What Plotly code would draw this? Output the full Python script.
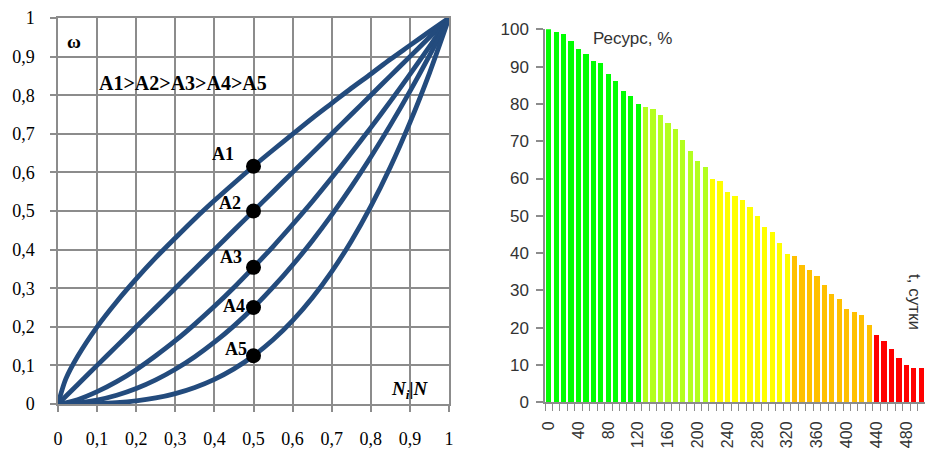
import plotly.graph_objects as go

# ---------- Left chart data ----------
x_rel = [0, 0.02, 0.05, 0.1, 0.15, 0.2, 0.25, 0.3, 0.35, 0.4, 0.45, 0.5,
         0.55, 0.6, 0.65, 0.7, 0.75, 0.8, 0.85, 0.9, 0.95, 1]
curve_a1 = [0, 0.065, 0.123, 0.2, 0.265, 0.324, 0.379, 0.43, 0.48, 0.527, 0.572, 0.616,
            0.658, 0.699, 0.74, 0.779, 0.818, 0.855, 0.893, 0.929, 0.965, 1]
curve_a2 = [0, 0.02, 0.05, 0.1, 0.15, 0.2, 0.25, 0.3, 0.35, 0.4, 0.45, 0.5,
            0.55, 0.6, 0.65, 0.7, 0.75, 0.8, 0.85, 0.9, 0.95, 1]
curve_a3 = [0, 0.003, 0.011, 0.032, 0.058, 0.089, 0.125, 0.164, 0.207, 0.253, 0.302, 0.354,
            0.408, 0.465, 0.524, 0.586, 0.65, 0.716, 0.784, 0.854, 0.926, 1]
curve_a4 = [0, 0.0004, 0.0025, 0.01, 0.0225, 0.04, 0.0625, 0.09, 0.1225, 0.16, 0.2025, 0.25,
            0.3025, 0.36, 0.4225, 0.49, 0.5625, 0.64, 0.7225, 0.81, 0.9025, 1]
curve_a5 = [0, 0.00001, 0.0001, 0.001, 0.0034, 0.008, 0.0156, 0.027, 0.0429, 0.064, 0.0911, 0.125,
            0.1664, 0.216, 0.2746, 0.343, 0.4219, 0.512, 0.6141, 0.729, 0.8574, 1]
curve_names = ["A1", "A2", "A3", "A4", "A5"]
point_x = 0.5
point_y = [0.616, 0.5, 0.354, 0.25, 0.125]
left_ticks = [0, 0.1, 0.2, 0.3, 0.4, 0.5, 0.6, 0.7, 0.8, 0.9, 1]

# ---------- Right chart data ----------
days = list(range(0, 510, 10))
resource = [100, 99.3, 98.7, 96.7, 94.6, 93.4, 91.5, 90.8, 88.0, 86.1, 83.4, 82.1, 80.0,
            79.0, 78.6, 76.9, 74.9, 73.2, 70.3, 67.3, 64.7, 62.9,
            59.9, 59.3, 56.3, 55.2, 54.2, 52.2, 49.9, 46.8, 45.6, 42.7, 39.7,
            39.1, 36.6, 35.3, 33.8, 31.3, 29.0, 27.7, 25.0, 24.1, 23.4, 20.6,
            18.0, 16.4, 14.1, 11.8, 10.0, 9.0, 9.0]
day_ticks = list(range(0, 481, 40))

# colour zones (upper bound day, colour)
zones = [(130, "#00FF00"), (220, "#B3FF1F"), (330, "#FFFF00"), (440, "#FFC000"), (10**6, "#FF0000")]


def zone_color(d):
    for bound, col in zones:
        if d < bound:
            return col
    return zones[-1][1]


bar_colors = [zone_color(d) for d in days]

LINE_COL = "#234B7D"
GRID_COL = "#8C8C8C"
SERIF = "Liberation Serif"
SANS = "Liberation Sans"
W, H = 925, 449


def px_x(p):
    return p / W


def px_y(p):
    return 1 - p / H


fig = go.Figure()

for name, ys in zip(curve_names, [curve_a1, curve_a2, curve_a3, curve_a4, curve_a5]):
    fig.add_trace(go.Scatter(x=x_rel, y=ys, mode="lines", name=name,
                             line=dict(color=LINE_COL, width=4.8, shape="spline", smoothing=0.8),
                             xaxis="x", yaxis="y", showlegend=False, hoverinfo="skip",
                             cliponaxis=False))

fig.add_trace(go.Scatter(x=[point_x] * len(point_y), y=point_y, mode="markers",
                         marker=dict(color="black", size=15), xaxis="x", yaxis="y",
                         showlegend=False))

fig.add_trace(go.Bar(x=days, y=resource, marker=dict(color=bar_colors, line=dict(width=0)),
                     width=7, xaxis="x2", yaxis="y2", showlegend=False))

# labels of the points
label_pos = [(0.421, 0.648), (0.44, 0.52), (0.443, 0.381), (0.449, 0.254), (0.455, 0.142)]
annotations = []
for name, (lx, ly) in zip(curve_names, label_pos):
    annotations.append(dict(x=lx, y=ly, xref="x", yref="y", text="<b>%s</b>" % name,
                            xanchor="center", yanchor="middle",
                            showarrow=False, font=dict(family=SERIF, size=18, color="black")))

annotations += [
    dict(x=0.042, y=0.938, xref="x", yref="y", text="<b>ω</b>", showarrow=False,
         xanchor="center", yanchor="middle",
         font=dict(family=SERIF, size=19, color="black")),
    dict(x=0.32, y=0.832, xref="x", yref="y", text="<b>A1&gt;A2&gt;A3&gt;A4&gt;A5</b>",
         xanchor="center", yanchor="middle",
         showarrow=False, font=dict(family=SERIF, size=20, color="black")),
    dict(x=0.899, y=0.036, xref="x", yref="y", text="<b><i>N<sub>i</sub>|N</i></b>",
         xanchor="center", yanchor="middle",
         showarrow=False, font=dict(family=SERIF, size=19, color="black")),
    dict(x=px_x(632), y=px_y(38), xref="paper", yref="paper", text="Ресурс, %",
         xanchor="center", yanchor="middle",
         showarrow=False, font=dict(family=SANS, size=17, color="#333333")),
    dict(x=px_x(915), y=px_y(302), xref="paper", yref="paper", text="t, сутки",
         xanchor="center", yanchor="middle",
         textangle=90, showarrow=False, font=dict(family=SANS, size=17, color="#333333")),
]

fig.update_layout(
    width=W, height=H,
    margin=dict(l=0, r=0, t=0, b=0, autoexpand=False),
    paper_bgcolor="white", plot_bgcolor="white",
    separators=", ",
    bargap=0,
    annotations=annotations,
    xaxis=dict(domain=[px_x(58), px_x(449)], range=[0, 1], tickvals=left_ticks, anchor="y",
               showgrid=True, gridcolor=GRID_COL, gridwidth=1.5, automargin=False,
               showline=True, linecolor=GRID_COL, linewidth=1.5, mirror=True,
               ticks="outside", ticklen=6, tickcolor=GRID_COL, tickwidth=1.5,
               ticklabelstandoff=12, zeroline=False,
               tickfont=dict(family=SERIF, size=18, color="black")),
    yaxis=dict(domain=[px_y(404), px_y(18)], range=[0, 1], tickvals=left_ticks, anchor="x",
               showgrid=True, gridcolor=GRID_COL, gridwidth=1.5, automargin=False,
               showline=True, linecolor=GRID_COL, linewidth=1.5, mirror=True,
               ticks="outside", ticklen=6, tickcolor=GRID_COL, tickwidth=1.5,
               ticklabelstandoff=12, zeroline=False,
               tickfont=dict(family=SERIF, size=18, color="black")),
    xaxis2=dict(domain=[px_x(545), 1.0], range=[-5, 505], tickvals=day_ticks, anchor="y2",
                tickangle=-90, showgrid=False, zeroline=False, automargin=False,
                showline=True, linecolor=GRID_COL, linewidth=1.5,
                ticks="", ticklabelstandoff=11,
                minor=dict(tick0=5, dtick=10, ticks="outside", ticklen=7,
                           tickcolor=GRID_COL, tickwidth=1, showgrid=False),
                tickfont=dict(family=SANS, size=16, color="#333333")),
    yaxis2=dict(domain=[px_y(402.3), px_y(29.3)], range=[0, 100], dtick=10, anchor="x2",
                showgrid=False, zeroline=False, automargin=False,
                showline=True, linecolor=GRID_COL, linewidth=1.5,
                ticks="outside", ticklen=7, tickcolor=GRID_COL, tickwidth=1.5,
                ticklabelstandoff=4,
                tickfont=dict(family=SANS, size=17, color="#333333")),
)

fig.write_html("out.html", config={"displayModeBar": False},
               post_script="document.body.style.margin='0';document.body.style.overflow='hidden';")
